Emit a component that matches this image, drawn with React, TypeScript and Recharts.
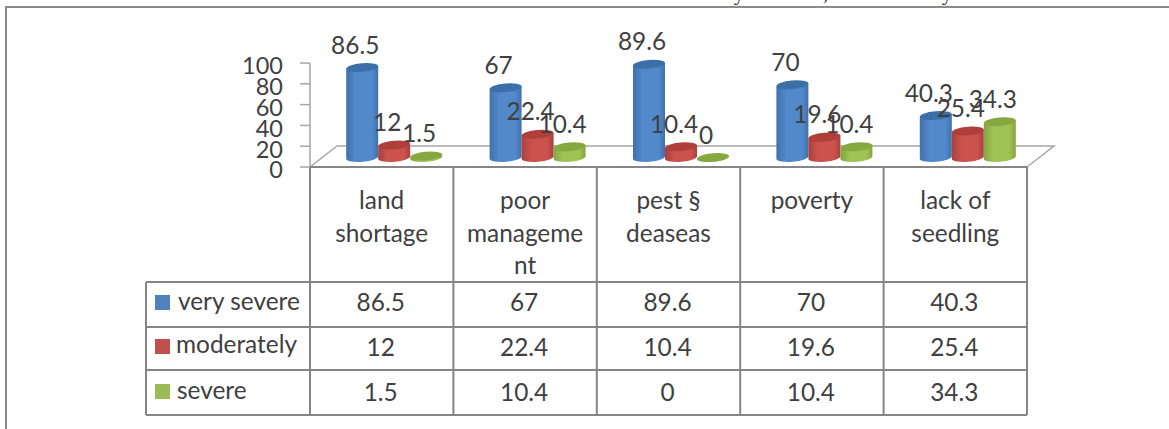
import React from "react";
import { BarChart, Bar, XAxis, YAxis, LabelList } from "recharts";

const categories = ["land shortage", "poor management", "pest § deaseas", "poverty", "lack of seedling"];
const categoryLines = [
  ["land", "shortage"],
  ["poor", "manageme", "nt"],
  ["pest §", "deaseas"],
  ["poverty"],
  ["lack of", "seedling"],
];
const verySevere = [86.5, 67, 89.6, 70, 40.3];
const moderately = [12, 22.4, 10.4, 19.6, 25.4];
const severe = [1.5, 10.4, 0, 10.4, 34.3];
const valueTicks = [0, 20, 40, 60, 80, 100];
const titleTail = [
  { glyph: "y", x: 734 },
  { glyph: ",", x: 823 },
  { glyph: "y", x: 942 },
];

const series = [
  { key: "verySevere", name: "very severe", values: verySevere, fill: "#4F81BD", light: "#5289CB", dark: "#3F71AC", top: "#3A6FA8", keyY: 295, textX: 178, textY: 310 },
  { key: "moderately", name: "moderately", values: moderately, fill: "#C0504D", light: "#CC524E", dark: "#A8403D", top: "#B03F3C", keyY: 339, textX: 176, textY: 353 },
  { key: "severe", name: "severe", values: severe, fill: "#9BBB59", light: "#A0C355", dark: "#84A444", top: "#86A83F", keyY: 384, textX: 177, textY: 399 },
];

const rows = categories.map((category, i) => ({
  category,
  verySevere: verySevere[i],
  moderately: moderately[i],
  severe: severe[i],
}));

const FONT = "Lato, 'Open Sans', sans-serif";
const TEXT = "#404040";
const GRID = "#858585";
const WIDTH = 1169;
const HEIGHT = 429;
const PLOT_LEFT = 310;
const PLOT_RIGHT = 1027;
const PLOT_TOP = 63;
const PLOT_BOTTOM = 167;
const BAND = (PLOT_RIGHT - PLOT_LEFT) / categories.length;
// The bars stand in the middle of the sloped floor, not on its front edge.
const DEPTH_X = 13;
const DEPTH_Y = -9.5;
const TABLE_LEFT = 146;
const TABLE_HEADER = 282;
const TABLE_ROWS = [327, 370, 415];
const VALUE_BASELINES = [311, 356, 401];
const HEADER_BASELINES = [209, 241.5, 274];
const TEXT_SIZE = 24.4;
const AXIS_TEXT_SIZE = 23.5;

const Cylinder = (props: any) => {
  const { x, y, width, height, light, dark, top, gradientId } = props;
  const rx = width / 2;
  const ry = 4.3;
  const tilt = 1.5;
  const cx = x + rx + DEPTH_X;
  const ty = y + DEPTH_Y;
  const by = y + height + DEPTH_Y;
  const d = [
    `M${cx - rx} ${ty + tilt}`,
    `L${cx - rx} ${by + tilt}`,
    `A${rx} ${ry} -5 0 0 ${cx + rx} ${by - tilt}`,
    `L${cx + rx} ${ty - tilt}`,
    "Z",
  ].join(" ");
  return (
    <g>
      <defs>
        <linearGradient id={gradientId} x1="0" y1="0" x2="1" y2="0">
          <stop offset="0" stopColor={dark} />
          <stop offset="0.3" stopColor={light} />
          <stop offset="0.8" stopColor={light} />
          <stop offset="1" stopColor={dark} />
        </linearGradient>
      </defs>
      <path d={d} fill={`url(#${gradientId})`} />
      <ellipse cx={cx} cy={ty} rx={rx} ry={ry} fill={top} transform={`rotate(-5 ${cx} ${ty})`} />
    </g>
  );
};

const BarValue = (props: any) => {
  const { x, y, width, value } = props;
  return (
    <text
      x={x + width / 2 + DEPTH_X - 7}
      y={y + DEPTH_Y - 14}
      textAnchor="middle"
      fontFamily={FONT}
      fontSize={TEXT_SIZE}
      fill={TEXT}
    >
      {value}
    </text>
  );
};

const TableColumn = (props: any) => {
  const { x, index } = props;
  const cell = { textAnchor: "middle" as const, fontFamily: FONT, fontSize: TEXT_SIZE, fill: TEXT };
  return (
    <g>
      <line x1={x + BAND / 2} x2={x + BAND / 2} y1={PLOT_BOTTOM} y2={TABLE_ROWS[2]} stroke={GRID} strokeWidth={2} />
      {index === 0 && (
        <line x1={x - BAND / 2} x2={x - BAND / 2} y1={PLOT_BOTTOM} y2={TABLE_ROWS[2]} stroke={GRID} strokeWidth={2} />
      )}
      {categoryLines[index].map((line, i) => (
        <text key={line} x={x} y={HEADER_BASELINES[i]} {...cell}>
          {line}
        </text>
      ))}
      {series.map((s, i) => (
        <text key={s.key} x={x - 1} y={VALUE_BASELINES[i]} {...cell}>
          {s.values[index]}
        </text>
      ))}
    </g>
  );
};

export default function App() {
  return (
    <div style={{ position: "absolute", left: 0, top: 0, width: WIDTH, height: HEIGHT, background: "#fff", overflow: "hidden" }}>
      <BarChart
        width={WIDTH}
        height={HEIGHT}
        data={rows}
        margin={{ top: PLOT_TOP, right: WIDTH - PLOT_RIGHT, bottom: 0, left: 0 }}
        barCategoryGap={23.2}
        barGap={0}
      >
        {/* Outer frame and the end of the heading above it */}
        <g>
          <polyline points={`6,${HEIGHT} 6,7 ${WIDTH},7`} fill="none" stroke="#8c8c8c" strokeWidth={2} />
          {titleTail.map((t) => (
            <text key={t.x} x={t.x} y={0} fontFamily="'Liberation Serif', serif" fontSize={20} fill="#111">
              {t.glyph}
            </text>
          ))}
        </g>
        {/* Sloped floor behind the cylinders */}
        <polyline
          points={`${PLOT_LEFT},${PLOT_BOTTOM} 337,146 1054,146 ${PLOT_RIGHT},${PLOT_BOTTOM}`}
          fill="none"
          stroke="#a6a6a6"
          strokeWidth={1.5}
        />
        {/* Rules of the data table and its legend column */}
        <g stroke={GRID} strokeWidth={2}>
          <line x1={TABLE_LEFT} x2={PLOT_RIGHT} y1={TABLE_HEADER} y2={TABLE_HEADER} />
          {TABLE_ROWS.map((y) => (
            <line key={y} x1={TABLE_LEFT} x2={PLOT_RIGHT} y1={y} y2={y} />
          ))}
          <line x1={TABLE_LEFT} x2={TABLE_LEFT} y1={TABLE_HEADER} y2={TABLE_ROWS[2]} />
        </g>
        {series.map((s) => (
          <g key={s.key}>
            <rect x={155} y={s.keyY} width={15} height={15} fill={s.fill} />
            <text x={s.textX} y={s.textY} fontFamily={FONT} fontSize={TEXT_SIZE} fill={TEXT}>
              {s.name}
            </text>
          </g>
        ))}
        <XAxis
          dataKey="category"
          interval={0}
          height={HEIGHT - PLOT_BOTTOM}
          tickLine={false}
          axisLine={{ stroke: GRID, strokeWidth: 2 }}
          tick={<TableColumn />}
        />
        <YAxis
          width={PLOT_LEFT}
          domain={[0, 100]}
          ticks={valueTicks}
          interval={0}
          tickSize={10}
          tickMargin={17}
          tickLine={{ stroke: "#a6a6a6", strokeWidth: 1.5 }}
          axisLine={{ stroke: "#a6a6a6", strokeWidth: 1.5 }}
          tick={{ fontFamily: FONT, fontSize: AXIS_TEXT_SIZE, fill: TEXT, dy: 3 }}
        />
        {series.map((s) => (
          <Bar
            key={s.key}
            dataKey={s.key}
            name={s.name}
            fill={s.fill}
            isAnimationActive={false}
            shape={<Cylinder light={s.light} dark={s.dark} top={s.top} gradientId={`cyl-${s.key}`} />}
          >
            <LabelList dataKey={s.key} content={<BarValue />} />
          </Bar>
        ))}
      </BarChart>
    </div>
  );
}
